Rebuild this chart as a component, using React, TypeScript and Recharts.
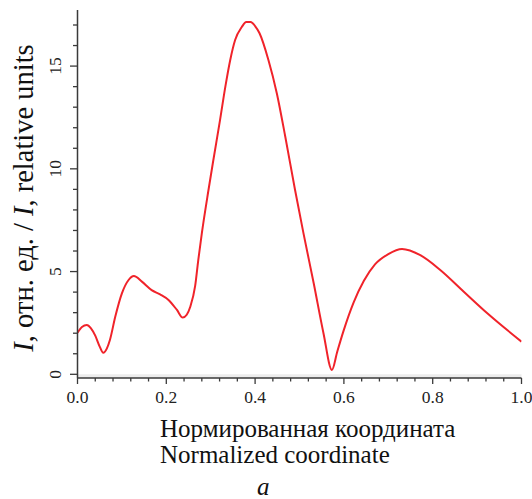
import React from 'react';
import { LineChart, Line, XAxis, YAxis, ReferenceArea } from 'recharts';

// normalized coordinate vs intensity
const coordX = [
  0.0, 0.01, 0.021, 0.03, 0.04, 0.05, 0.058, 0.066, 0.073, 0.085, 0.1, 0.115, 0.127, 0.145,
  0.167, 0.186, 0.205, 0.224, 0.237, 0.246, 0.254, 0.265, 0.272, 0.28, 0.295, 0.306, 0.321,
  0.333, 0.344, 0.355, 0.37, 0.38, 0.39, 0.4, 0.41, 0.43, 0.449, 0.468, 0.49, 0.509, 0.532,
  0.554, 0.573, 0.585, 0.599, 0.622, 0.645, 0.67, 0.7, 0.731, 0.772, 0.817, 0.87, 0.923, 1.0,
];
const intensity = [
  2.02, 2.3, 2.4, 2.25, 1.88, 1.35, 1.05, 1.25, 1.67, 2.8, 3.94, 4.59, 4.78, 4.51,
  4.1, 3.89, 3.62, 3.13, 2.76, 2.9, 3.29, 4.3, 5.56, 6.86, 8.97, 10.43, 12.37,
  14.0, 15.3, 16.27, 16.9, 17.15, 17.15, 16.95, 16.6, 15.3, 13.67, 11.56, 8.97, 6.86, 4.43,
  2.0, 0.21, 1.1, 2.1, 3.5, 4.55, 5.35, 5.85, 6.1, 5.8, 5.08, 4.02, 2.97, 1.59,
];

const xMajorTicks = [0, 0.2, 0.4, 0.6, 0.8, 1.0];
const xTicks = [
  0, 0.04, 0.08, 0.12, 0.16, 0.2, 0.24, 0.28, 0.32, 0.36, 0.4, 0.44, 0.48, 0.52, 0.56,
  0.6, 0.64, 0.68, 0.72, 0.76, 0.8, 0.84, 0.88, 0.92, 0.96, 1.0,
];
const yMajorTicks = [0, 5, 10, 15];
const yTicks = [0, 1, 2, 3, 4, 5, 6, 7, 8, 9, 10, 11, 12, 13, 14, 15, 16, 17];

const data = coordX.map((x, i) => ({ x, y: intensity[i] }));

const FONT = '"Liberation Serif", "Times New Roman", serif';
const AXIS = '#3a3a3a';
const serif = (size: number, italic = false): React.CSSProperties => ({
  fontFamily: FONT,
  fontSize: size,
  fontStyle: italic ? 'italic' : 'normal',
});

const isMajor = (list: number[], v: number) => list.some(t => Math.abs(t - v) < 1e-6);

const XTick = (props: any) => {
  const { x, y, payload } = props;
  const major = isMajor(xMajorTicks, payload.value);
  return (
    <g>
      <line x1={x} x2={x} y1={y} y2={y + (major ? 6 : 3.5)} stroke={AXIS} strokeWidth={1.3} />
      {major && (
        <text x={x} y={y + 25} textAnchor="middle" style={serif(17.5)} fill="#222">
          {payload.value.toFixed(1)}
        </text>
      )}
    </g>
  );
};

const YTick = (props: any) => {
  const { x, y, payload } = props;
  const major = isMajor(yMajorTicks, payload.value);
  const tx = x - 16;
  return (
    <g>
      <line x1={x - (major ? 7.5 : 4.5)} x2={x} y1={y} y2={y} stroke={AXIS} strokeWidth={1.3} />
      {major && (
        <text
          x={tx}
          y={y}
          transform={`rotate(-90, ${tx}, ${y})`}
          textAnchor="middle"
          style={serif(17.5)}
          fill="#222"
        >
          {payload.value}
        </text>
      )}
    </g>
  );
};

const XLabel = () => (
  <g fill="#111">
    <text x={160} y={437} style={serif(25)}>Нормированная координата</text>
    <text x={160} y={463} style={serif(25)}>Normalized coordinate</text>
    <text x={257} y={495} style={serif(25, true)}>a</text>
  </g>
);

const YLabel = () => (
  <text
    x={33}
    y={198}
    transform="rotate(-90, 33, 198)"
    textAnchor="middle"
    style={serif(28.5)}
    fill="#111"
  >
    <tspan style={{ fontStyle: 'italic' }}>I</tspan>, отн. ед. / <tspan style={{ fontStyle: 'italic' }}>I</tspan>, relative units
  </text>
);

export default function App() {
  return (
    <div style={{ position: 'absolute', left: 0, top: 0, width: 532, height: 499, background: '#fff' }}>
      <LineChart width={532} height={499} data={data} margin={{ top: 10, right: 10.5, left: 7.5, bottom: 0 }}>
        <XAxis
          dataKey="x"
          type="number"
          domain={[0, 1]}
          ticks={xTicks}
          interval={0}
          height={121}
          tickLine={false}
          tickSize={0}
          tickMargin={0}
          tick={<XTick />}
          axisLine={{ stroke: AXIS, strokeWidth: 1.5 }}
          allowDataOverflow
          label={{ content: () => <XLabel /> }}
        />
        <YAxis
          type="number"
          domain={[-0.18, 17.73]}
          ticks={yTicks}
          interval={0}
          width={70}
          tickLine={false}
          tickSize={0}
          tickMargin={0}
          tick={<YTick />}
          axisLine={{ stroke: AXIS, strokeWidth: 1.5 }}
          allowDataOverflow
          label={{ content: () => <YLabel /> }}
        />
        <ReferenceArea y1={-0.18} y2={0} fill="#ececec" fillOpacity={1} stroke="none" ifOverflow="visible" />
        <Line
          type="monotone"
          dataKey="y"
          stroke="#f0232a"
          strokeWidth={2}
          dot={false}
          isAnimationActive={false}
        />
      </LineChart>
    </div>
  );
}
